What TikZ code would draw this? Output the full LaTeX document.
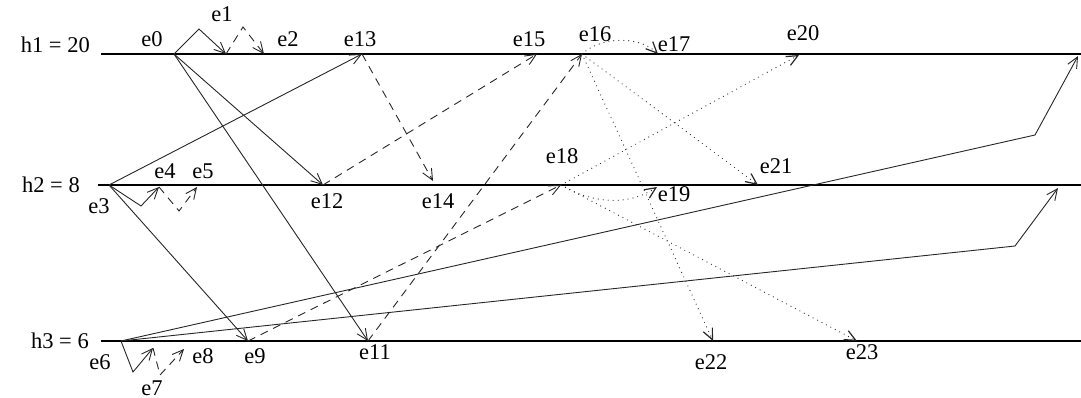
\documentclass[tikz,border=0pt]{standalone}
\usepackage{fontspec}
\setmainfont{Liberation Serif}
\usetikzlibrary{arrows.meta}
\tikzset{>={Straight Barb[length=11pt,width=10pt]},
  every node/.style={font=\fontsize{22.5}{26}\selectfont,inner sep=0pt},
  level/.style={draw=black,line width=1.3pt},
  msg/.style={->,draw=black!85,line width=.9pt},
  dashmsg/.style={msg,dash pattern=on 8pt off 6pt},
  dotmsg/.style={msg,line cap=round,dash pattern=on 0pt off 5pt,line width=1.2pt}}

\begin{document}
\begin{tikzpicture}[x=1pt,y=-1pt]
\useasboundingbox (0,0) rectangle (1081,398);
% process lines
\foreach \i/\v/\y/\lx/\ly/\sx in {1/20/54/90/45/101,2/8/185/80/185/98,3/6/341/89/341/101}{
  \node[anchor=east] (h\i) at (\lx,\ly) {h\i{} = \v};
  \draw[level] (\sx,\y) -- (1081,\y);}
% events and their labels
\foreach \n/\x/\y/\lx/\ly in {e0/174/54/152/39, e1/226/54/222/14, e2/264/54/288/39,
    e13/362/54/360/39, e15/537/54/529/39, e16/582/54/595/34, e17/658/54/674/44,
    e20/799/55/803/33, e3/109/185/99/206, e4/159/187/165/171, e5/197/187/203/171,
    e12/323/185/327/201, e14/433/181/438/201, e18/561/185/562/156, e19/657/187/674/194,
    e21/758/185/776/166, e6/121/341/100/362, e7/153/348/152/388, e8/184/349/203/356,
    e9/248/341/255/356, e11/368/341/375/352, e22/713/341/711/362, e23/857/341/862/352}{
  \coordinate (\n) at (\x,\y);
  \node (l\n) at (\lx,\ly) {\n};}
\coordinate (t1) at (1078,56);
\coordinate (t2) at (1058,188);
% solid
\draw[msg] (e0) -- ++(25,-25) -- (e1);
\draw[msg] (e0) -- (e12);
\draw[msg] (e0) -- (e11);
\draw[msg] (e3) -- (e13);
\draw[msg] (e3) -- ++(32,21) -- (e4);
\draw[msg] (e3) -- (e9);
\draw[msg] (e6) -- ++(12,31) -- (e7);
\draw[msg] (e6) -- (1035,135) -- (t1);
\draw[msg] (e6) -- (1015,246) -- (t2);
% dashed
\draw[dashmsg] (e1) -- ++(17,-27) -- (e2);
\draw[dashmsg] (e4) -- ++(20,24) -- (e5);
\draw[dashmsg] (e7) -- ++(7,27) -- (e8);
\draw[dashmsg] (e13) -- (e14);
\draw[dashmsg] (e12) -- (e15);
\draw[dashmsg] (e9) -- (e18);
\draw[dashmsg] (e11) -- (e16);
% dotted
\draw[dotmsg] (e16) .. controls (602,36) and (640,36) .. (e17);
\draw[dotmsg] (e16) -- (e21);
\draw[dotmsg] (e16) -- (e22);
\draw[dotmsg] (e18) -- (e20);
\draw[dotmsg] (e18) .. controls (595,205) and (630,205) .. (e19);
\draw[dotmsg] (e18) -- (e23);
\end{tikzpicture}
\end{document}
